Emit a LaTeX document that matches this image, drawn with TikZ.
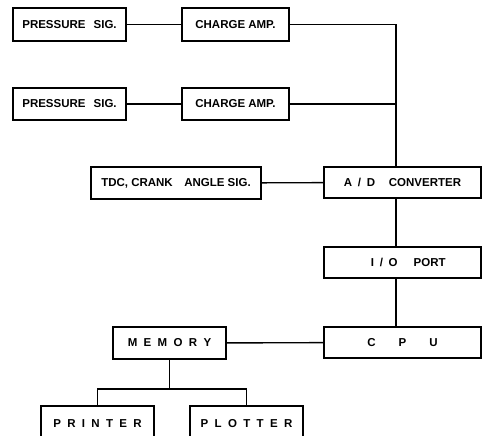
\documentclass[tikz,border=0pt]{standalone}
\usepackage{fontspec}
\setmainfont{Liberation Sans}
\begin{document}
\begin{tikzpicture}[x=1pt,y=-1pt,
  blk/.style={draw, line width=1.4pt, rectangle, inner sep=0pt,
    font=\bfseries\fontsize{11.5}{13}\selectfont},
  ln/.style={line width=1.4pt}]
\useasboundingbox (0,0) rectangle (483,436);
\clip (0,0) rectangle (483,436);
\node[blk, minimum width=113pt, minimum height=33pt] (p1) at (69.5,24.5) {PRESSURE\hspace{0.7em}SIG.};
\node[blk, minimum width=107pt, minimum height=33pt] (c1) at (235.5,24.5) {CHARGE AMP.};
\node[blk, minimum width=113pt, minimum height=32pt] (p2) at (69.5,104) {PRESSURE\hspace{0.7em}SIG.};
\node[blk, minimum width=107pt, minimum height=32pt] (c2) at (235.5,104) {CHARGE AMP.};
\node[blk, minimum width=170pt, minimum height=32pt] (tdc) at (176,183) {TDC, CRANK\hspace{1em}ANGLE SIG.};
\node[blk, minimum width=157pt, minimum height=31pt] (ad) at (402.5,182.5) {A\hspace{0.5em}/\hspace{0.5em}D\hspace{1.2em}CONVERTER};
\node[blk, minimum width=157pt, minimum height=31pt] (io) at (402.5,262.5) {\hspace{1em}I\hspace{0.5em}/\hspace{0.5em}O\hspace{1.4em}PORT};
\node[blk, minimum width=157pt, minimum height=31pt] (cpu) at (402.5,342.5) {C\hspace{2em}P\hspace{2em}U};
\node[blk, minimum width=113pt, minimum height=32pt] (mem) at (169.5,343) {M\hspace{0.55em}E\hspace{0.55em}M\hspace{0.55em}O\hspace{0.55em}R\hspace{0.55em}Y};
\node[blk, minimum width=113pt, minimum height=36pt] (prn) at (97.5,424) {P\hspace{0.55em}R\hspace{0.55em}I\hspace{0.55em}N\hspace{0.55em}T\hspace{0.55em}E\hspace{0.55em}R};
\node[blk, minimum width=113pt, minimum height=36pt] (plt) at (246.5,424) {P\hspace{0.55em}L\hspace{0.55em}O\hspace{0.55em}T\hspace{0.55em}T\hspace{0.55em}E\hspace{0.55em}R};
\coordinate (j1) at (396,24.5);
\coordinate (j2) at (396,104);
\coordinate (b) at (169.5,389);
\draw[ln] (p1) -- (c1);
\draw[ln] (p2) -- (c2);
\draw[ln] (tdc) -- (ad);
\draw[ln] (mem) -- (cpu);
\draw[ln] (c1.east) -- (j1) -- (ad.north -| j1);
\draw[ln] (c2.east) -- (j2);
\draw[ln] (ad.south -| j1) -- (io.north -| j1);
\draw[ln] (io.south -| j1) -- (cpu.north -| j1);
\draw[ln] (mem.south) -- (b);
\draw[ln] (prn.north) |- (b) -| (plt.north);
\end{tikzpicture}
\end{document}
